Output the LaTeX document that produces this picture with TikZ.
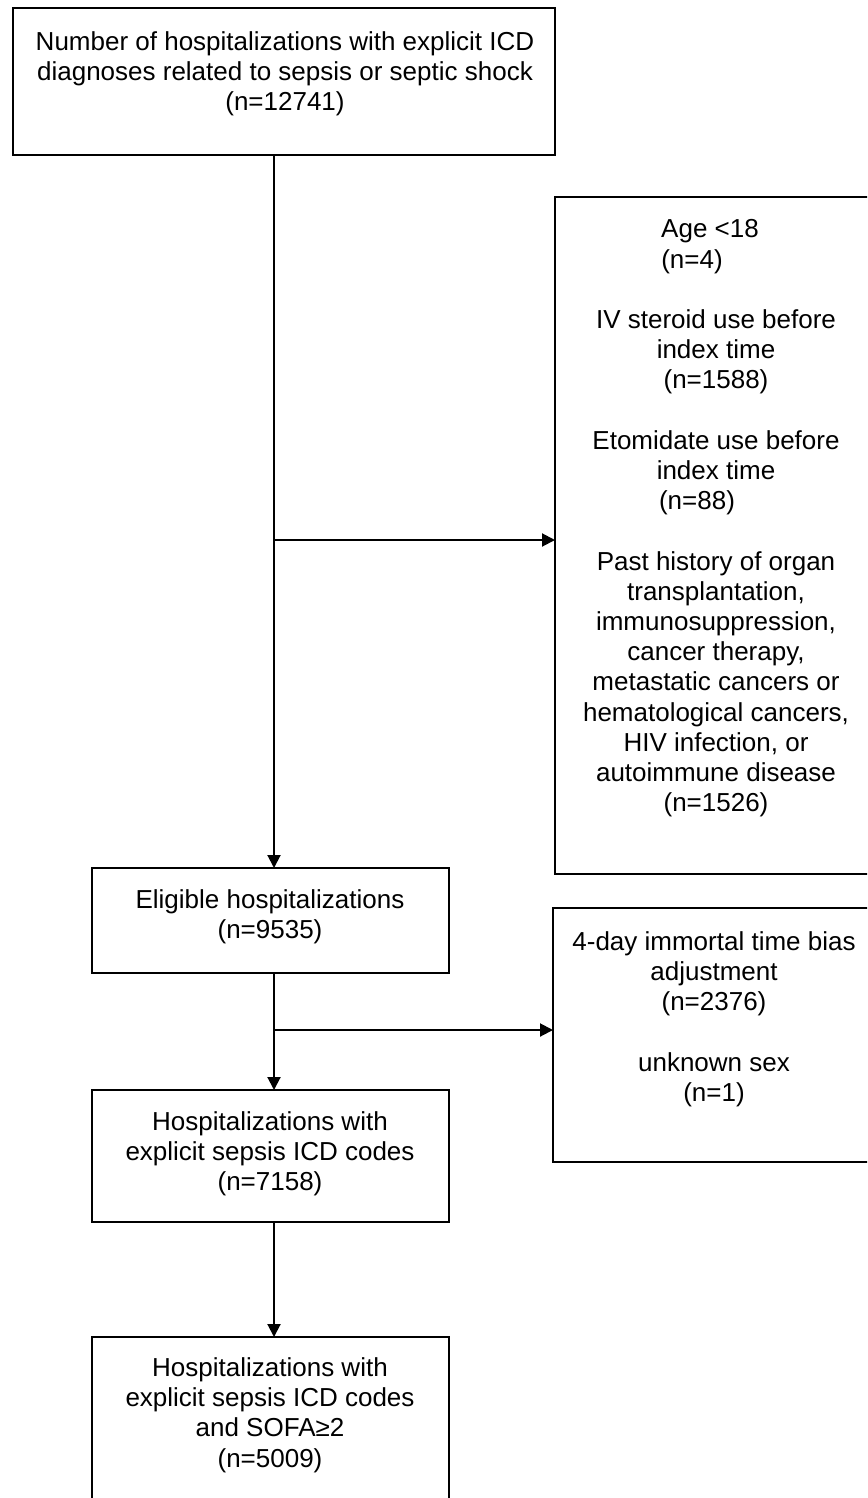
\documentclass[tikz,border=0pt]{standalone}
\usepackage{fontspec}
\setmainfont{Liberation Sans}
\usetikzlibrary{arrows.meta}
\begin{document}
\begin{tikzpicture}[x=0.4pt,y=-0.4pt,
    box/.style={draw, line width=0.8pt, inner sep=0pt, outer sep=0pt},
    txt/.style={align=center, inner sep=0pt, font=\fontsize{10.4}{12.08}\selectfont},
    arr/.style={line width=0.8pt, -{Triangle[length=5.2pt,width=5.2pt]}}]
        \clip (0,0) rectangle (867,1498);

        % Boxes
        \node[box, minimum width=216.8pt, minimum height=58.8pt] (top) at (284,81.5) {};
        \node[box, minimum width=128.8pt, minimum height=270.8pt] (excl1) at (716,535.5) {};
        \node[box, minimum width=142.8pt, minimum height=42pt] (elig) at (270.5,920.5) {};
        \node[box, minimum width=128.8pt, minimum height=101.6pt] (excl2) at (714,1035) {};
        \node[box, minimum width=142.8pt, minimum height=52.8pt] (codes) at (270.5,1156) {};
        \node[box, minimum width=142.8pt, minimum height=89.2pt] (final) at (270.5,1448.5) {};

        % Texts
        \node[txt] (ttop) at (285,73.5) {Number of hospitalizations with explicit ICD\\diagnoses related to sepsis or septic shock\\(n=12741)};
        \node[txt] (texcl1) at (716,518.5) {\hspace*{-4.8pt}Age <18\\\hspace*{-19.2pt}(n=4)\\[12.08pt]
            IV steroid use before\\index time\\(n=1588)\\[12.08pt]
            Etomidate use before\\index time\\\hspace*{-15.2pt}(n=88)\\[12.08pt]
            Past history of organ\\transplantation,\\immunosuppression,\\cancer therapy,\\metastatic cancers or\\hematological cancers,\\HIV infection, or\\autoimmune disease\\(n=1526)};
        \node[txt] (telig) at (270,917) {Eligible hospitalizations\\(n=9535)};
        \node[txt] (texcl2) at (714,1019) {4-day immortal time bias\\adjustment\\(n=2376)\\[12.08pt]unknown sex\\(n=1)};
        \node[txt] (tcodes) at (270,1154) {Hospitalizations with\\explicit sepsis ICD codes\\(n=7158)};
        \node[txt] (tfinal) at (270,1415) {Hospitalizations with\\explicit sepsis ICD codes\\and SOFA≥2\\(n=5009)};

        % Connectors
        \coordinate (b1) at (274,540);
        \coordinate (b2) at (274,1030);
        \draw[arr] (b1 |- top.south) -- (b1 |- elig.north);
        \draw[arr] (b1) -- (b1 -| excl1.west);
        \draw[arr] (b2 |- elig.south) -- (b2 |- codes.north);
        \draw[arr] (b2) -- (b2 -| excl2.west);
        \draw[arr] (b2 |- codes.south) -- (b2 |- final.north);
\end{tikzpicture}
\end{document}
